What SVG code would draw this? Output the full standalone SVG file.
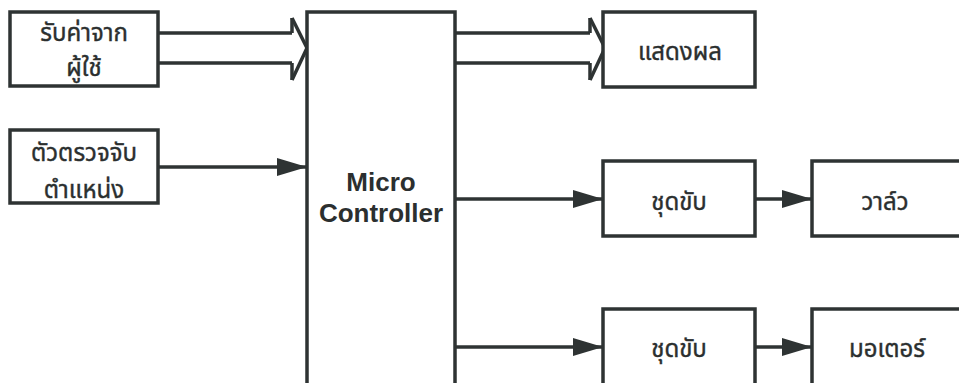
<svg xmlns="http://www.w3.org/2000/svg" width="959" height="383" viewBox="0 0 959 383">
<style>
.box{fill:#fff;stroke:#2e3333;stroke-width:3.5}
.ln{fill:none;stroke:#2e3333;stroke-width:3.5}
.th{font-family:"Noto Sans Thai","Noto Sans","DejaVu Sans",sans-serif;font-size:24px;fill:#2b2f2f;stroke:#2b2f2f;stroke-width:0.4;text-anchor:middle}
.en{font-family:"Liberation Sans",Arial,sans-serif;font-weight:bold;font-size:26px;fill:#2b2f2f;text-anchor:middle}
</style>
<defs>
<marker id="ah" markerWidth="30" markerHeight="18" refX="30" refY="9" orient="auto" markerUnits="userSpaceOnUse">
<path d="M0,0 L30,9 L0,18 Z" fill="#2e3333"/>
</marker>
</defs>
<rect width="959" height="383" fill="#fff"/>
<g id="connectors">
<path class="ln" d="M158,33 H292 M158,63 H292"/>
<path class="ln" d="M292,18 L307,48 L292,80"/>
<path class="ln" d="M292,18 V33 M292,63 V80"/>
<path class="ln" d="M455,33 H590 M455,63 H590"/>
<path class="ln" d="M590,18 L605,48 L590,80"/>
<path class="ln" d="M590,18 V33 M590,63 V80"/>
<line class="ln" x1="158" y1="167" x2="307" y2="167" marker-end="url(#ah)"/>
<line class="ln" x1="455" y1="199" x2="603" y2="199" marker-end="url(#ah)"/>
<line class="ln" x1="755" y1="199" x2="812" y2="199" marker-end="url(#ah)"/>
<line class="ln" x1="455" y1="347" x2="603" y2="347" marker-end="url(#ah)"/>
<line class="ln" x1="755" y1="347" x2="812" y2="347" marker-end="url(#ah)"/>
</g>
<g id="input-user">
<rect class="box" x="10" y="12" width="148" height="74"/>
<text class="th" x="84" y="41">รับค่าจาก</text>
<text class="th" x="84" y="76">ผู้ใช้</text>
</g>
<g id="sensor">
<rect class="box" x="10" y="130" width="148" height="73"/>
<text class="th" x="84" y="161">ตัวตรวจจับ</text>
<text class="th" x="84" y="198">ตำแหน่ง</text>
</g>
<g id="mcu">
<rect class="box" x="307" y="12" width="148" height="380"/>
<text class="en" x="381" y="191">Micro</text>
<text class="en" x="381" y="222">Controller</text>
</g>
<g id="display">
<rect class="box" x="603" y="12" width="152" height="75"/>
<text class="th" x="680" y="60">แสดงผล</text>
</g>
<g id="driver1">
<rect class="box" x="603" y="161" width="152" height="75"/>
<text class="th" x="679" y="210">ชุดขับ</text>
</g>
<g id="valve">
<rect class="box" x="812" y="161" width="160" height="75"/>
<text class="th" x="885" y="210">วาล์ว</text>
</g>
<g id="driver2">
<rect class="box" x="603" y="309" width="152" height="90"/>
<text class="th" x="679" y="357">ชุดขับ</text>
</g>
<g id="motor">
<rect class="box" x="812" y="309" width="160" height="90"/>
<text class="th" x="887" y="357">มอเตอร์</text>
</g>
</svg>
